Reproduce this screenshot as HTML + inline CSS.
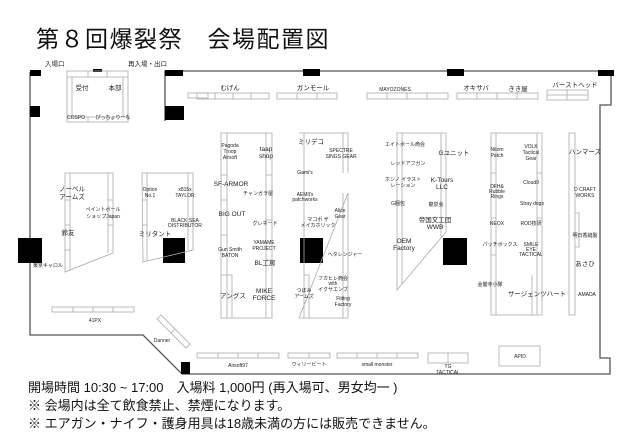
<!DOCTYPE html>
<html><head><meta charset="utf-8"><style>
html,body{margin:0;padding:0;background:#fff;width:630px;height:446px;overflow:hidden}
svg{display:block}
text{font-family:"Liberation Sans","Noto Sans CJK JP",sans-serif;fill:#222}
.t{font-size:6.5px;text-anchor:middle}
.s{font-size:5px;text-anchor:middle}
.w{fill:none;stroke:#555;stroke-width:1.3}
.b{fill:none;stroke:#aaa;stroke-width:0.8}
.f{fill:#fff;stroke:#aaa;stroke-width:0.8}
.ft{font-size:13px;fill:#111}
</style></head><body>
<svg width="630" height="446" viewBox="0 0 630 446" xmlns="http://www.w3.org/2000/svg">
<text x="36" y="47" style="font-size:23px;letter-spacing:1.5px;fill:#111">第８回爆裂祭　会場配置図</text>

<path class="w" d="M30 72 V335 H143 L182 374 H610 V358 H600 V105 H611 V71 H165 V121"/>
<path class="w" d="M30 72 H41"/>
<text x="45" y="66" class="t" style="text-anchor:start">入場口</text>
<text x="128" y="66" class="t" style="text-anchor:start">再入場・出口</text>

<rect x="30" y="70" width="11" height="6" fill="#000"/>
<rect x="30" y="106" width="10" height="11" fill="#000"/>
<rect x="165" y="70" width="18" height="6" fill="#000"/>
<rect x="165" y="106" width="19" height="14" fill="#000"/>
<rect x="93" y="69" width="9" height="3" fill="#000"/>
<rect x="303" y="69" width="17" height="7" fill="#000"/>
<rect x="447" y="69" width="17" height="7" fill="#000"/>
<rect x="598" y="70" width="16" height="6" fill="#000"/>
<rect x="18" y="238" width="24" height="25" fill="#000"/>
<rect x="163" y="238" width="22" height="25" fill="#000"/>
<rect x="300" y="238" width="23" height="25" fill="#000"/>
<rect x="443" y="238" width="24" height="27" fill="#000"/>
<rect x="181" y="362" width="9" height="12" fill="#000"/>

<rect class="b" x="67" y="71" width="61" height="51"/>
<path class="b" d="M67 77 H128 M88 71 V77 M107 71 V77 M72 77 V117 M123 77 V117 M67 117 H128 M88 117 V122 M107 117 V122"/>
<text x="82" y="90" class="t">受付</text>
<text x="115" y="90" class="t">本部</text>
<text x="76" y="119" class="s">COSPO</text>
<text x="113" y="119" class="s">ぴっちょりーな</text>
<rect class="f" x="188" y="93" width="20" height="5"/>

<g class="b">
<rect x="197" y="93" width="72" height="6"/><path d="M215 93V99M233 93V99M251 93V99"/>
<rect x="277" y="93" width="60" height="6"/><path d="M297 93V99M317 93V99"/>
<rect x="367" y="93" width="81" height="6"/><path d="M387 93V99M407 93V99M427 93V99"/>
<rect x="457" y="93" width="81" height="6"/><path d="M477 93V99M497 93V99M517 93V99"/>
<rect x="547" y="90" width="41" height="10"/><path d="M567 90V100M547 95H588"/>
</g>
<text x="230" y="90" class="t">むげん</text>
<text x="313" y="90" class="t">ガンモール</text>
<text x="395" y="91" class="s">MAYOZONES</text>
<text x="476" y="90" class="t">オキサバ</text>
<text x="518" y="91" class="t">きき屋</text>
<text x="575" y="87" class="t">バーストヘッド</text>

<path class="b" d="M65 173 H113 V253 L65 272 Z M70 173 V270 M108 173 V253 M65 200 H70 M65 225 H70 M65 250 H70 M108 200 H113 M108 225 H113"/>
<text x="72" y="191" class="t">ノーベル</text><text x="72" y="199" class="t">アームズ</text>
<text x="103" y="211" class="s">ペイントボール</text><text x="103" y="218" class="s">ショップJapan</text>
<text x="68" y="235" class="t">鈴友</text>
<text x="48" y="267" class="s">東京キャロル</text>
<path class="b" d="M142 173 H193 V250 L143 262 Z M147 173 V261 M188 173 V250 M142 200 H147 M142 225 H147"/>
<text x="150" y="191" class="s">Option</text><text x="150" y="197" class="s">No.1</text>
<text x="185" y="191" class="s">x815x</text><text x="185" y="197" class="s">TAYLOR</text>
<text x="185" y="222" class="s">BLACK SEA</text><text x="185" y="227" class="s">DISTRIBUTOR</text>
<text x="155" y="236" class="t">ミリタント</text>

<path class="b" d="M221 133 H272 V318 H221 Z M227 133 V318 M266 133 V318 M221 175 H227 M221 200 H227 M221 235 H227 M221 275 H227 M266 175 H272 M266 220 H272 M266 260 H272 M227 275 H232 V318"/>
<text x="230" y="147" class="s">Pagoda</text><text x="230" y="153" class="s">Troop</text><text x="230" y="159" class="s">Airsoft</text>
<text x="266" y="151" class="t">taap</text><text x="266" y="158" class="t">shop</text>
<text x="231" y="186" class="t">SF-ARMOR</text>
<text x="258" y="195" class="s">チャンガラ屋</text>
<text x="232" y="216" class="t">BIG OUT</text>
<text x="265" y="225" class="s">グレネード</text>
<text x="230" y="251" class="s">Gun Smith</text><text x="230" y="257" class="s">BATON</text>
<text x="264" y="244" class="s">YAMAME</text><text x="264" y="250" class="s">PROJECT</text>
<text x="265" y="265" class="t">BL工房</text>
<text x="233" y="298" class="t">アングス</text>
<text x="264" y="293" class="t">MIKE</text><text x="264" y="300" class="t">FORCE</text>

<path class="b" d="M299 133 H348 V173 M348 193 V318 H299 Z M304 133 V318 M343 133 V173 M343 193 V318 M304 275 H309 V318"/>
<text x="311" y="144" class="t">ミリデコ</text>
<text x="341" y="152" class="s">SPECTRE</text><text x="341" y="158" class="s">SINGS GEAR</text>
<text x="305" y="174" class="s">Gami's</text>
<text x="305" y="196" class="s">AEMIl's</text><text x="305" y="201" class="s">patchworks</text>
<text x="340" y="212" class="s">Alice</text><text x="340" y="218" class="s">Gear</text>
<text x="318" y="221" class="s">マコポ ザ</text><text x="318" y="227" class="s">メイカホリック</text>
<text x="345" y="256" class="s">ヘタレンジャー</text>
<text x="333" y="280" class="s">フカヒレ商会</text><text x="333" y="285" class="s">with</text><text x="333" y="291" class="s">イクサエンブ</text>
<text x="304" y="292" class="s">つぼみ</text><text x="304" y="298" class="s">アームズ</text>
<text x="343" y="300" class="s">Fitting</text><text x="343" y="306" class="s">Factory</text>

<path class="b" d="M397 133 H446 V232 L397 290 Z M402 133 V284 M441 133 V238"/>
<text x="405" y="146" class="s">エイトボール商会</text>
<text x="454" y="155" class="t">Gユニット</text>
<text x="408" y="165" class="s">レッドアフガン</text>
<text x="403" y="181" class="s">ホシノ イラスト</text><text x="403" y="187" class="s">レーション</text>
<text x="442" y="182" class="t">K-Tours</text><text x="442" y="189" class="t">LLC</text>
<text x="398" y="205" class="s">G梱包</text>
<text x="436" y="206" class="s">龍泉会</text>
<text x="435" y="222" class="t">帝国文工団</text><text x="435" y="229" class="t">WWB</text>
<text x="404" y="243" class="t">OEM</text><text x="404" y="250" class="t">Factory</text>

<path class="b" d="M491 133 H542 V315 H491 Z M496 133 V315 M537 133 V315 M532 275 V315 M491 173 H496 M491 218 H496 M491 255 H496 M537 173 H542 M537 218 H542"/>
<text x="497" y="151" class="s">Nitom</text><text x="497" y="157" class="s">Patch</text>
<text x="531" y="148" class="s">VOLK</text><text x="531" y="154" class="s">Tactical</text><text x="531" y="160" class="s">Gear</text>
<text x="531" y="184" class="s">Cloud9</text>
<text x="497" y="188" class="s">DFH&amp;</text><text x="497" y="193" class="s">Rubble</text><text x="497" y="198" class="s">Rings</text>
<text x="532" y="205" class="s">Stray dogs</text>
<text x="497" y="225" class="s">NEOX</text>
<text x="531" y="225" class="s">ROD技研</text>
<text x="500" y="246" class="s">パッチボックス</text>
<text x="531" y="246" class="s">SMILE</text><text x="531" y="251" class="s">EYE</text><text x="531" y="256" class="s">TACTICAL</text>
<text x="490" y="286" class="s">金閣寺小隊</text>
<text x="537" y="296" class="t">サージェンツハート</text>

<path class="b" d="M569 133 H575 V315 H569 Z M575 213 H579 V247 H575"/>
<text x="585" y="154" class="t">ハンマーズ</text>
<text x="585" y="191" class="s">D CRAFT</text><text x="585" y="197" class="s">WORKS</text>
<text x="585" y="237" class="s">明日香縫製</text>
<text x="585" y="266" class="t">あさひ</text>
<text x="587" y="296" class="s">AMADA</text>

<rect class="b" x="52" y="307" width="82" height="5"/><path class="b" d="M73 307V312M93 307V312M113 307V312"/>
<text x="95" y="322" class="s">41PX</text>
<path class="b" d="M157 319 L161 315 L190 344 L186 348 Z M171 333 L175 329"/>
<text x="162" y="342" class="s">Danner</text>

<g class="b">
<rect x="197" y="353" width="82" height="5"/><path d="M218 353V358M238 353V358M258 353V358"/>
<rect x="288" y="353" width="42" height="5"/><path d="M309 353V358"/>
<rect x="337" y="353" width="81" height="5"/><path d="M357 353V358M377 353V358M397 353V358"/>
<rect x="428" y="353" width="40" height="10"/><path d="M448 353V363"/>
<rect x="499" y="346" width="41" height="20"/>
</g>
<text x="238" y="367" class="s">Airsoft97</text>
<text x="309" y="366" class="s">ウィリービート</text>
<text x="377" y="366" class="s">small monster</text>
<text x="448" y="368" class="s">TG</text><text x="448" y="374" class="s">TACTICAL</text>
<text x="520" y="358" class="s">APID</text>

<text x="28" y="392" class="ft">開場時間  10:30 ~ 17:00　入場料 1,000円 (再入場可、男女均一 )</text>
<text x="28" y="410" class="ft">※ 会場内は全て飲食禁止、禁煙になります。</text>
<text x="28" y="428" class="ft">※ エアガン・ナイフ・護身用具は18歳未満の方には販売できません。</text>
</svg>
</body></html>
